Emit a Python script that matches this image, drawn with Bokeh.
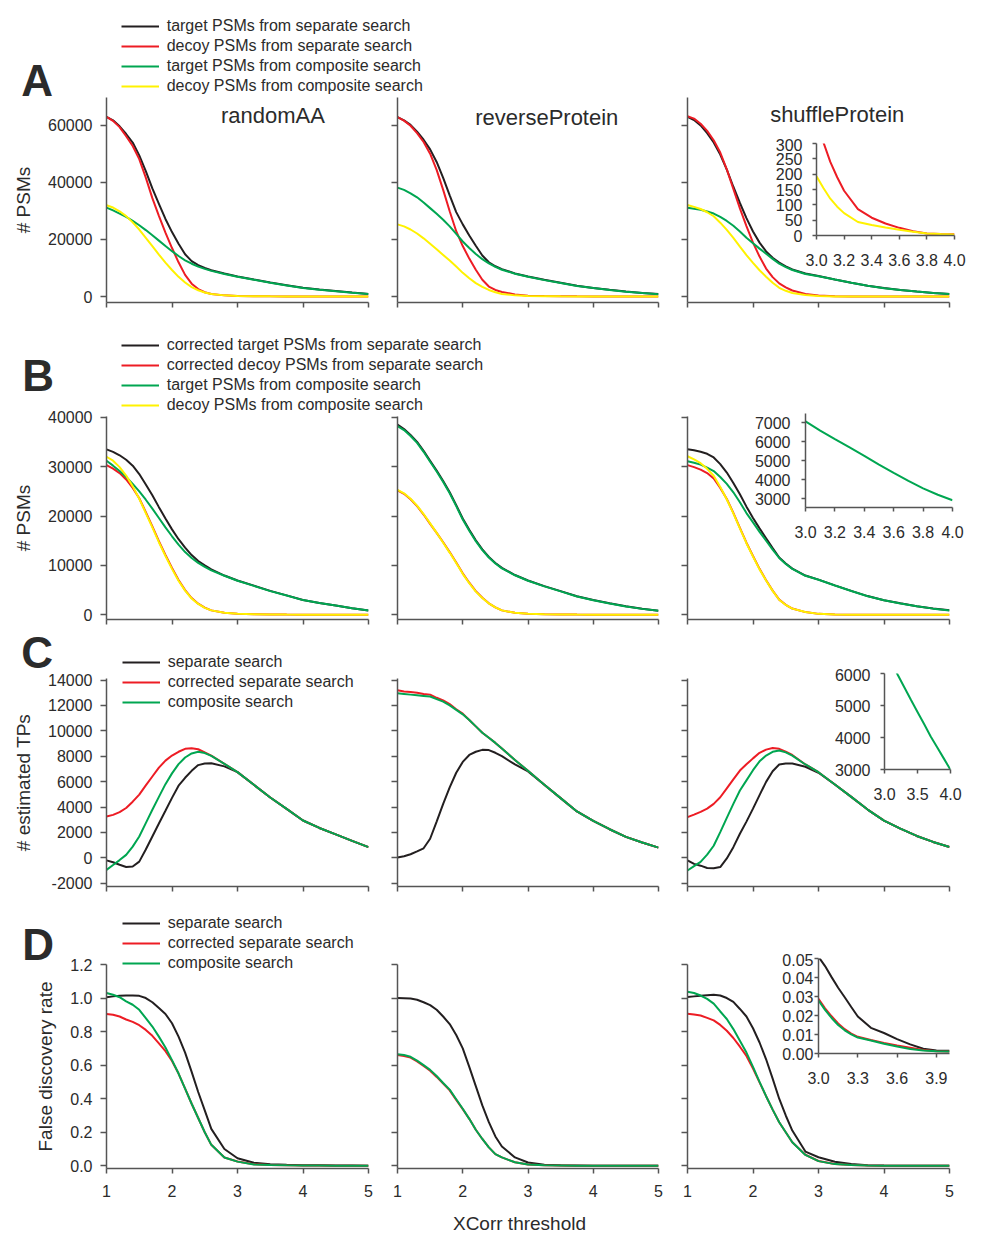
import numpy as np
from bokeh.plotting import figure
from bokeh.models import (GridBox, Legend, LegendItem, Label, FixedTicker, Range1d,
                          NumeralTickFormatter, CustomJSTickFormatter)
from bokeh.embed import file_html
from bokeh.resources import INLINE

FONT = "Liberation Sans"
TXT = "#2b2b2b"
AXC = "#555555"
BLACK, RED, GREEN, YELLOW = "#231f20", "#ed1c24", "#00a651", "#fff200"

# ---------------- data ----------------
XCORR = [1.0, 1.1, 1.2, 1.3, 1.4, 1.5, 1.6, 1.7, 1.8, 1.9, 2.0, 2.1, 2.2, 2.3, 2.4, 2.5, 2.6,
         2.8, 3.0, 3.25, 3.5, 3.75, 4.0, 4.25, 4.5, 4.75, 5.0]

DATASETS = ["randomAA", "reverseProtein", "shuffleProtein"]

# randomAA
RAND_TGT_SEP = [63000, 61800, 59700, 57000, 54000, 49500, 44000, 37900, 32500, 27200, 22600, 18500, 14800, 12400, 11000, 10000, 9200, 8100, 7050, 5950, 4900, 3970, 3050, 2420, 1900, 1370, 880]
RAND_DEC_SEP = [63000, 61600, 59400, 56200, 52800, 48200, 41700, 34500, 28300, 22400, 17000, 12000, 7600, 4500, 2600, 1500, 900, 400, 200, 100, 60, 40, 20, 10, 10, 10, 10]
RAND_TGT_COMP = [31200, 30200, 29100, 27900, 26500, 25000, 23300, 21500, 19600, 17700, 15900, 14200, 12700, 11500, 10500, 9700, 9000, 7900, 6900, 5850, 4800, 3900, 2980, 2370, 1870, 1340, 850]
RAND_DEC_COMP = [32000, 31200, 29900, 28200, 26000, 23500, 20600, 17700, 14700, 11900, 9300, 6900, 4900, 3300, 2200, 1400, 900, 400, 200, 100, 60, 40, 30, 20, 20, 10, 10]
RAND_TGT_CORR = [33500, 33000, 32300, 31400, 30200, 28500, 26400, 24200, 21800, 19500, 17300, 15300, 13600, 12100, 10900, 10000, 9200, 7950, 6950, 5900, 4850, 3930, 3000, 2390, 1880, 1350, 860]
RAND_DEC_CORR = [30300, 29600, 28700, 27400, 25700, 23600, 20800, 17900, 14900, 12100, 9500, 7050, 5000, 3400, 2250, 1450, 900, 400, 200, 100, 60, 40, 30, 20, 20, 10, 10]
RAND_C_SEP = [-200, -350, -550, -720, -680, -300, 650, 1680, 2700, 3700, 4720, 5680, 6300, 6850, 7300, 7420, 7450, 7200, 6750, 5750, 4750, 3850, 2940, 2350, 1850, 1330, 840]
RAND_C_CORR = [3250, 3380, 3600, 3920, 4420, 4980, 5700, 6400, 7100, 7650, 8050, 8350, 8580, 8620, 8550, 8300, 8050, 7400, 6750, 5750, 4750, 3850, 2940, 2350, 1850, 1330, 840]
RAND_C_COMP = [-950, -570, -180, 230, 880, 1680, 2730, 3780, 4800, 5800, 6650, 7380, 7900, 8220, 8350, 8250, 8020, 7400, 6750, 5750, 4750, 3850, 2940, 2350, 1850, 1330, 840]
RAND_D_SEP = [1.005, 1.01, 1.013, 1.015, 1.015, 1.013, 1.0, 0.975, 0.94, 0.905, 0.85, 0.77, 0.675, 0.56, 0.44, 0.33, 0.22, 0.1, 0.045, 0.018, 0.01, 0.006, 0.004, 0.003, 0.002, 0.002, 0.001]
RAND_D_CORR = [0.905, 0.9, 0.89, 0.872, 0.858, 0.838, 0.81, 0.775, 0.73, 0.683, 0.625, 0.55, 0.46, 0.37, 0.285, 0.2, 0.125, 0.05, 0.026, 0.009, 0.005, 0.003, 0.002, 0.0015, 0.001, 0.001, 0.001]
RAND_D_COMP = [1.03, 1.02, 1.005, 0.98, 0.96, 0.93, 0.88, 0.83, 0.77, 0.705, 0.63, 0.55, 0.46, 0.37, 0.285, 0.2, 0.125, 0.05, 0.025, 0.008, 0.005, 0.003, 0.002, 0.0015, 0.001, 0.001, 0.001]

# reverseProtein
REV_TGT_SEP = [62900, 61800, 60200, 57800, 55000, 51600, 47200, 41600, 35500, 29600, 25300, 21400, 17800, 14400, 12000, 10600, 9600, 8100, 7000, 5850, 4850, 3800, 3000, 2350, 1750, 1250, 850]
REV_DEC_SEP = [62900, 61700, 59900, 57300, 54200, 50100, 44400, 37400, 29900, 22900, 17700, 13300, 9400, 5900, 3500, 2300, 1600, 750, 300, 150, 80, 50, 30, 20, 10, 10, 10]
REV_TGT_COMP = [38200, 37400, 36200, 34800, 33000, 31000, 29000, 26900, 24600, 22000, 19300, 17000, 14900, 13100, 11600, 10400, 9400, 8000, 6900, 5750, 4750, 3700, 2950, 2300, 1700, 1200, 800]
REV_DEC_COMP = [25300, 24600, 23500, 22100, 20400, 18500, 16600, 14600, 12600, 10500, 8300, 6400, 4700, 3400, 2300, 1500, 900, 400, 200, 100, 60, 40, 30, 20, 10, 10, 10]
REV_TGT_CORR = [38500, 37600, 36400, 35000, 33200, 31200, 29200, 27100, 24800, 22200, 19500, 17200, 15100, 13250, 11700, 10500, 9500, 8050, 6950, 5800, 4800, 3750, 2980, 2330, 1720, 1220, 820]
REV_DEC_CORR = [25200, 24500, 23400, 22000, 20300, 18400, 16600, 14700, 12700, 10600, 8400, 6500, 4800, 3450, 2330, 1520, 900, 400, 200, 100, 60, 40, 30, 20, 10, 10, 10]
REV_C_SEP = [20, 120, 280, 500, 750, 1500, 2850, 4250, 5550, 6700, 7550, 8100, 8350, 8500, 8480, 8270, 8000, 7350, 6800, 5750, 4700, 3650, 2900, 2250, 1650, 1200, 800]
REV_C_CORR = [13200, 13100, 13050, 13000, 12900, 12850, 12600, 12400, 12100, 11700, 11350, 10850, 10350, 9850, 9450, 9050, 8600, 7700, 6850, 5750, 4700, 3650, 2900, 2250, 1650, 1200, 800]
REV_C_COMP = [12950, 12900, 12850, 12800, 12750, 12700, 12500, 12300, 12000, 11650, 11300, 10850, 10350, 9850, 9450, 9050, 8600, 7700, 6850, 5750, 4700, 3650, 2900, 2250, 1650, 1200, 800]
REV_D_SEP = [1.0, 0.999, 0.997, 0.99, 0.975, 0.958, 0.93, 0.89, 0.845, 0.78, 0.7, 0.59, 0.475, 0.36, 0.26, 0.175, 0.115, 0.05, 0.02, 0.006, 0.003, 0.002, 0.001, 0.001, 0.001, 0.001, 0.001]
REV_D_CORR = [0.66, 0.655, 0.645, 0.622, 0.595, 0.567, 0.53, 0.49, 0.45, 0.393, 0.338, 0.28, 0.215, 0.16, 0.11, 0.07, 0.05, 0.021, 0.008, 0.003, 0.002, 0.001, 0.001, 0.001, 0.001, 0.001, 0.001]
REV_D_COMP = [0.665, 0.66, 0.65, 0.627, 0.6, 0.572, 0.535, 0.494, 0.454, 0.397, 0.34, 0.28, 0.215, 0.16, 0.11, 0.07, 0.05, 0.021, 0.008, 0.003, 0.002, 0.001, 0.001, 0.001, 0.001, 0.001, 0.001]

# shuffleProtein
SHUF_TGT_SEP = [63000, 61900, 60000, 57300, 54000, 49800, 44500, 38500, 32800, 27500, 22800, 18900, 15800, 13600, 11900, 10600, 9500, 8050, 7200, 6000, 4860, 3800, 2960, 2320, 1740, 1260, 890]
SHUF_DEC_SEP = [63200, 62400, 60600, 58100, 54800, 50500, 44600, 37700, 30900, 24700, 18900, 14000, 9800, 6800, 4600, 3200, 2100, 900, 370, 110, 40, 12, 4, 3, 2, 1, 1]
SHUF_TGT_COMP = [31100, 30800, 30400, 29800, 29100, 27900, 26500, 24800, 22800, 20600, 18700, 16800, 15000, 13200, 11500, 10300, 9300, 7900, 7090, 5930, 4810, 3760, 2930, 2300, 1720, 1250, 880]
SHUF_DEC_COMP = [32100, 31450, 30700, 29550, 28150, 25900, 23350, 20550, 17500, 14500, 11800, 9200, 6950, 4850, 3050, 2000, 1250, 550, 190, 45, 25, 12, 3, 2, 1, 1, 1]
SHUF_TGT_CORR = [33500, 33300, 33000, 32600, 31850, 30500, 28800, 26700, 24400, 21900, 19600, 17500, 15500, 13500, 11600, 10400, 9350, 7950, 7120, 5960, 4840, 3790, 2960, 2330, 1750, 1280, 900]
SHUF_DEC_CORR = [30300, 29900, 29400, 28700, 27600, 25700, 23450, 20650, 17600, 14600, 11900, 9300, 7000, 4900, 3080, 2020, 1260, 550, 190, 45, 25, 12, 3, 2, 1, 1, 1]
SHUF_C_SEP = [-200, -480, -620, -800, -830, -730, -50, 840, 1890, 2850, 3870, 4940, 5980, 6820, 7350, 7430, 7430, 7170, 6700, 5770, 4800, 3800, 2930, 2300, 1720, 1250, 850]
SHUF_C_CORR = [3200, 3400, 3620, 3870, 4250, 4770, 5470, 6170, 6870, 7360, 7830, 8270, 8520, 8640, 8580, 8360, 8100, 7350, 6740, 5770, 4800, 3800, 2930, 2300, 1720, 1250, 850]
SHUF_C_COMP = [-1000, -650, -320, 250, 950, 2020, 3150, 4250, 5300, 6100, 6900, 7600, 8050, 8350, 8450, 8300, 8050, 7350, 6740, 5770, 4800, 3800, 2930, 2300, 1720, 1250, 850]
SHUF_D_SEP = [1.007, 1.01, 1.013, 1.016, 1.019, 1.015, 1.0, 0.977, 0.935, 0.89, 0.82, 0.735, 0.635, 0.52, 0.4, 0.3, 0.21, 0.085, 0.051, 0.0245, 0.0111, 0.0035, 0.0014, 0.001, 0.001, 0.001, 0.001]
SHUF_D_CORR = [0.907, 0.902, 0.896, 0.882, 0.867, 0.84, 0.805, 0.762, 0.71, 0.655, 0.58, 0.497, 0.415, 0.335, 0.26, 0.2, 0.14, 0.066, 0.0288, 0.0105, 0.0056, 0.0024, 0.001, 0.001, 0.001, 0.001, 0.001]
SHUF_D_COMP = [1.037, 1.03, 1.015, 0.995, 0.967, 0.92, 0.875, 0.815, 0.745, 0.675, 0.59, 0.5, 0.415, 0.335, 0.26, 0.2, 0.14, 0.065, 0.0279, 0.0101, 0.0051, 0.002, 0.001, 0.001, 0.001, 0.001, 0.001]

# insets (shuffleProtein, XCorr 3-4)
INSET_A_X = [3.0, 3.05, 3.1, 3.15, 3.2, 3.3, 3.4, 3.5, 3.6, 3.7, 3.8, 3.9, 4.0]
INSET_A_DEC_SEP = [365, 304, 240, 190, 146, 86, 58, 39, 25, 14, 6.5, 5, 4]
INSET_A_DEC_COMP = [193, 155, 120, 94, 73, 44, 34, 26, 19, 12, 6.5, 4.5, 3]
INSET_B_X = [3.0, 3.1, 3.2, 3.3, 3.4, 3.5, 3.6, 3.7, 3.8, 3.9, 4.0]
INSET_B_TGT_COMP = [7090, 6600, 6150, 5710, 5270, 4810, 4370, 3950, 3560, 3220, 2930]
INSET_C_X = [3.0, 3.1, 3.2, 3.3, 3.4, 3.5, 3.6, 3.7, 3.8, 3.9, 4.0]
INSET_C_COMP = [6740, 6390, 5960, 5570, 5180, 4800, 4420, 4030, 3690, 3340, 2990]
INSET_D_X = [3.0, 3.05, 3.1, 3.15, 3.2, 3.25, 3.3, 3.4, 3.5, 3.6, 3.7, 3.8, 3.9, 4.0]
INSET_D_SEP = [0.0509, 0.046, 0.0402, 0.0346, 0.0296, 0.0245, 0.0195, 0.0135, 0.0108, 0.0076, 0.0048, 0.0025, 0.0016, 0.0014]
INSET_D_CORR = [0.0288, 0.0238, 0.0196, 0.0158, 0.0128, 0.0105, 0.0088, 0.0071, 0.0056, 0.0042, 0.003, 0.0018, 0.0012, 0.001]
INSET_D_COMP = [0.0279, 0.023, 0.0187, 0.015, 0.0122, 0.0101, 0.0084, 0.0068, 0.0051, 0.0037, 0.0024, 0.0016, 0.0012, 0.001]

# ticks and labels
X_TICKS = [1, 2, 3, 4, 5]
A_YTICKS = [0, 20000, 40000, 60000]
B_YTICKS = [0, 10000, 20000, 30000, 40000]
C_YTICKS = [-2000, 0, 2000, 4000, 6000, 8000, 10000, 12000, 14000]
D_YTICKS = [0.0, 0.2, 0.4, 0.6, 0.8, 1.0, 1.2]
Y_LABELS = ["# PSMs", "# PSMs", "# estimated TPs", "False discovery rate"]
X_LABEL = "XCorr threshold"
ROW_LETTERS = ["A", "B", "C", "D"]
LEGEND_A = ["target PSMs from separate search", "decoy PSMs from separate search",
            "target PSMs from composite search", "decoy PSMs from composite search"]
LEGEND_B = ["corrected target PSMs from separate search", "corrected decoy PSMs from separate search",
            "target PSMs from composite search", "decoy PSMs from composite search"]
LEGEND_CD = ["separate search", "corrected separate search", "composite search"]

SERIES = {
    0: [[RAND_TGT_SEP, RAND_DEC_SEP, RAND_TGT_COMP, RAND_DEC_COMP],
        [REV_TGT_SEP, REV_DEC_SEP, REV_TGT_COMP, REV_DEC_COMP],
        [SHUF_TGT_SEP, SHUF_DEC_SEP, SHUF_TGT_COMP, SHUF_DEC_COMP]],
    1: [[RAND_TGT_CORR, RAND_DEC_CORR, RAND_TGT_COMP, RAND_DEC_COMP],
        [REV_TGT_CORR, REV_DEC_CORR, REV_TGT_COMP, REV_DEC_COMP],
        [SHUF_TGT_CORR, SHUF_DEC_CORR, SHUF_TGT_COMP, SHUF_DEC_COMP]],
    2: [[RAND_C_SEP, RAND_C_CORR, RAND_C_COMP],
        [REV_C_SEP, REV_C_CORR, REV_C_COMP],
        [SHUF_C_SEP, SHUF_C_CORR, SHUF_C_COMP]],
    3: [[RAND_D_SEP, RAND_D_CORR, RAND_D_COMP],
        [REV_D_SEP, REV_D_CORR, REV_D_COMP],
        [SHUF_D_SEP, SHUF_D_CORR, SHUF_D_COMP]],
}
ROW_COLORS = {0: [BLACK, RED, GREEN, YELLOW], 1: [BLACK, RED, GREEN, YELLOW],
              2: [BLACK, RED, GREEN], 3: [BLACK, RED, GREEN]}
LEGENDS = {0: LEGEND_A, 1: LEGEND_B, 2: LEGEND_CD, 3: LEGEND_CD}
Y_TICKS = {0: A_YTICKS, 1: B_YTICKS, 2: C_YTICKS, 3: D_YTICKS}
Y_FMT = {0: "0", 1: "0", 2: "0", 3: "0.0"}

# ---------------- layout geometry (page pixels) ----------------
Y_RANGES = [(-2100, 69800), (-950, 40150), (-2260, 14120), (-0.016, 1.2)]
ROW_FRAME_H = [205, 203, 208, 204]
ROW_TOP_BORDER = [89, 104, 49, 68]
ROW_TOP = [8, 312, 629, 896]
COL_LEFT = [8, 373, 663]
COL_LEFT_BORDER = [98, 24, 24]
COL_FRAME_W = [262, 261, 262]
COL_RIGHT_BORDER = [5, 5, 28]
PAGE_W, PAGE_H = 977, 1240
# overlay annotation positions (page pixels, text anchored at its vertical centre)
LEGEND_LEFT = [120.7, 120.7, 121.7, 121.7]
LEGEND_BOTTOM = [94.7, 414.0, 710.7, 972.3]
LETTER_POS = [(20.7, 80.2), (21.7, 375.2), (20.7, 651.5), (21.7, 944.2)]
TITLE_POS = [(166.5, 187.5), (149.3, 184.8), (149.7, 188.1)]
XLABEL_POS = (519, 1222.5)


def blank_fmt():
    return CustomJSTickFormatter(code="return ''")


def style_axes(p, xticks, yticks, xfmt, yfmt, tick_x, tick_y, stand_x, stand_y):
    xa, ya = p.xaxis[0], p.yaxis[0]
    xa.ticker = FixedTicker(ticks=xticks)
    ya.ticker = FixedTicker(ticks=yticks)
    xa.formatter = xfmt
    ya.formatter = yfmt
    for ax, t, s in ((xa, tick_x, stand_x), (ya, tick_y, stand_y)):
        ax.axis_line_color = AXC
        ax.axis_line_width = 1.5
        ax.major_tick_line_color = AXC
        ax.major_tick_line_width = 1.5
        ax.major_tick_out = t
        ax.major_tick_in = 0
        ax.minor_tick_line_color = None
        ax.major_label_standoff = s
        ax.major_label_text_font = FONT
        ax.major_label_text_font_size = "16px"
        ax.major_label_text_color = TXT
    p.xgrid.visible = False
    p.ygrid.visible = False


placed = []

for r in range(4):
    for c in range(3):
        p = figure(frame_width=COL_FRAME_W[c], frame_height=ROW_FRAME_H[r],
                   x_range=Range1d(1, 5), y_range=Range1d(*Y_RANGES[r]),
                   min_border_left=COL_LEFT_BORDER[c], min_border_right=COL_RIGHT_BORDER[c],
                   min_border_top=ROW_TOP_BORDER[r], min_border_bottom=(70 if r == 3 else 10),
                   toolbar_location=None, output_backend="svg",
                   outline_line_color=None, background_fill_color=None, border_fill_color=None)
        style_axes(p, X_TICKS, Y_TICKS[r],
                   NumeralTickFormatter(format="0") if r == 3 else blank_fmt(),
                   NumeralTickFormatter(format=Y_FMT[r]) if c == 0 else blank_fmt(),
                   5, 6, 11, 8)
        for vals, col in zip(SERIES[r][c], ROW_COLORS[r]):
            p.line(XCORR, vals, line_color=col, line_width=2)
        if c == 0:
            ya = p.yaxis[0]
            ya.axis_label = Y_LABELS[r]
            ya.axis_label_text_font = FONT
            ya.axis_label_text_font_size = "19px"
            ya.axis_label_text_font_style = "normal"
            ya.axis_label_text_color = TXT
            ya.axis_label_standoff = 11
        if r == 0:
            tx, ty = TITLE_POS[c]
            p.add_layout(Label(x=tx, y=ty, x_units="screen", y_units="screen", text=DATASETS[c],
                               text_font=FONT, text_font_size="22px", text_color=TXT,
                               text_baseline="alphabetic", text_align="center"))
        placed.append((p, COL_LEFT[c], ROW_TOP[r]))


def inset(left, top, fw, fh, yr, xticks, yticks, xfmt, yfmt, ystand, lines):
    p = figure(frame_width=fw, frame_height=fh, x_range=Range1d(3, 4), y_range=Range1d(*yr),
               min_border_left=60, min_border_right=15, min_border_top=5, min_border_bottom=40,
               toolbar_location=None, output_backend="svg",
               outline_line_color=None, background_fill_color=None, border_fill_color=None)
    style_axes(p, xticks, yticks, NumeralTickFormatter(format=xfmt), NumeralTickFormatter(format=yfmt),
               4, 4, 14, ystand)
    for xs, ys, col in lines:
        p.line(xs, ys, line_color=col, line_width=2)
    placed.append((p, left, top))


inset(756, 138, 138, 92, (0, 300), [3.0, 3.2, 3.4, 3.6, 3.8, 4.0], [0, 50, 100, 150, 200, 250, 300],
      "0.0", "0", 10, [(INSET_A_X, INSET_A_DEC_SEP, RED), (INSET_A_X, INSET_A_DEC_COMP, YELLOW)])
inset(745, 408, 147, 94, (2550, 7500), [3.0, 3.2, 3.4, 3.6, 3.8, 4.0], [3000, 4000, 5000, 6000, 7000],
      "0.0", "0", 11, [(INSET_B_X, INSET_B_TGT_COMP, GREEN)])
inset(824, 668, 66, 96, (3000, 6000), [3.0, 3.5, 4.0], [3000, 4000, 5000, 6000],
      "0.0", "0", 10, [(INSET_C_X, INSET_C_COMP, GREEN)])
inset(758, 953, 131, 95, (0, 0.05), [3.0, 3.3, 3.6, 3.9], [0.0, 0.01, 0.02, 0.03, 0.04, 0.05],
      "0.0", "0.00", 1, [(INSET_D_X, INSET_D_SEP, BLACK), (INSET_D_X, INSET_D_CORR, RED),
                         (INSET_D_X, INSET_D_COMP, GREEN)])

# ---------------- overlay for row letters, legends and the shared x label ----------------
ov = figure(frame_width=PAGE_W, frame_height=PAGE_H, x_range=Range1d(0, PAGE_W), y_range=Range1d(PAGE_H, 0),
            min_border_left=0, min_border_right=0, min_border_top=0, min_border_bottom=0,
            x_axis_location=None, y_axis_location=None,
            toolbar_location=None, output_backend="svg",
            outline_line_color=None, background_fill_color=None, border_fill_color=None)
ov.grid.visible = False
NAN = np.array([np.nan])
for r in range(4):
    # legend key proxies: a single NaN point, so nothing is drawn in the plot area
    proxies = [ov.line(x=NAN, y=NAN, line_color=col, line_width=2) for col in ROW_COLORS[r]]
    leg = Legend(items=[LegendItem(label=t, renderers=[rr]) for t, rr in zip(LEGENDS[r], proxies)],
                 location=(LEGEND_LEFT[r], PAGE_H - LEGEND_BOTTOM[r]), orientation="vertical",
                 border_line_color=None, background_fill_alpha=0,
                 label_text_font=FONT, label_text_font_size="16px", label_text_color=TXT,
                 glyph_width=38, glyph_height=18, label_height=18, spacing=2,
                 padding=0, margin=0, label_standoff=8)
    ov.add_layout(leg)
    lx, ly = LETTER_POS[r]
    ov.add_layout(Label(x=lx, y=ly, text=ROW_LETTERS[r], text_font=FONT, text_font_size="44px",
                        text_font_style="bold", text_color=TXT, text_baseline="alphabetic",
                        text_align="left"))
ov.add_layout(Label(x=XLABEL_POS[0], y=XLABEL_POS[1], text=X_LABEL, text_font=FONT,
                    text_font_size="19px", text_color=TXT, text_baseline="alphabetic",
                    text_align="center"))
placed.append((ov, 0, 0))

xl = sorted(set([l for _, l, _ in placed] + [PAGE_W]))
yl = sorted(set([t for _, _, t in placed] + [PAGE_H]))
cols = [f"{b - a}px" for a, b in zip(xl, xl[1:])]
rows = [f"{b - a}px" for a, b in zip(yl, yl[1:])]
kids = []
for f, l, t in placed:
    ci, ri = xl.index(l), yl.index(t)
    kids.append((f, ri, ci, len(rows) - ri, len(cols) - ci))

root = GridBox(children=kids, rows=rows, cols=cols, spacing=0)
open("out.html", "w").write(file_html(root, INLINE))
